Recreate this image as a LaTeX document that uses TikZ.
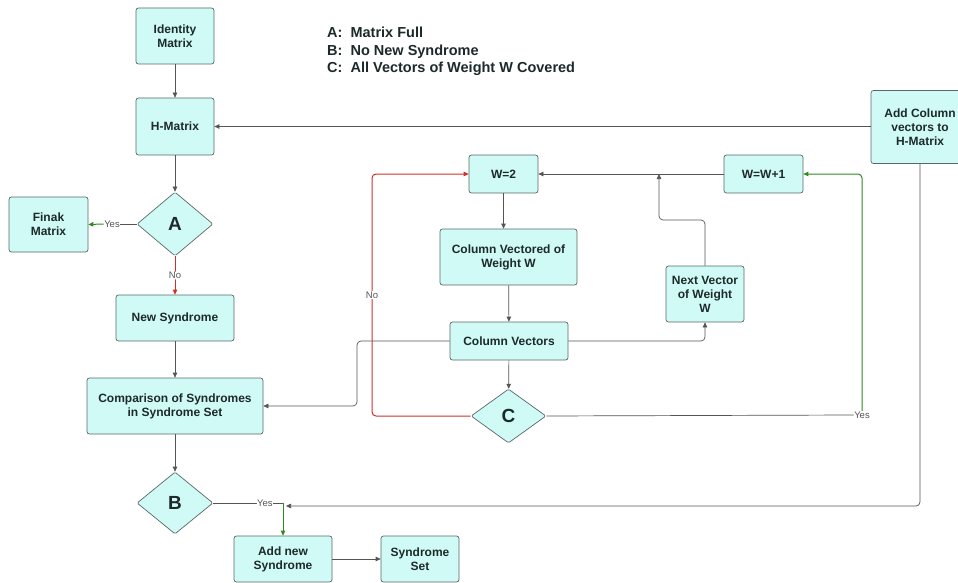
\documentclass[tikz,border=0pt]{standalone}
\usepackage{fontspec}
\setmainfont{Liberation Sans}
\usetikzlibrary{shapes.geometric,arrows.meta}
\definecolor{boxc}{HTML}{CFFAF6}
\definecolor{bordc}{HTML}{5A6868}
\definecolor{linec}{HTML}{555555}
\definecolor{redc}{HTML}{D0302A}
\definecolor{greenc}{HTML}{2E8B22}
\definecolor{txtc}{HTML}{1E2A2A}
\begin{document}
\begin{tikzpicture}[x=1pt,y=-1pt,
 box/.style={draw=bordc, line width=0.7pt, fill=boxc, rounded corners=2.5pt, align=center, inner sep=1pt, text=txtc, font=\bfseries\fontsize{12}{14}\selectfont},
 dia/.style={diamond, draw=bordc, line width=0.7pt, fill=boxc, inner sep=0pt, text=txtc, font=\bfseries\fontsize{19}{21}\selectfont, rounded corners=1.5pt},
 line/.style={draw=linec, line width=0.7pt, rounded corners=4pt},
 conn/.style={line, -{Triangle[length=5pt,width=4.5pt]}},
 cline/.style={line width=1pt},
 lab/.style={font=\fontsize{9.5}{10}\selectfont, text=linec, fill=white, inner sep=0.5pt},
 legend/.style={font=\bfseries\fontsize{14.5}{17.5}\selectfont, text=txtc, anchor=west, align=left, inner sep=0pt}
]
\useasboundingbox[fill=white] (0,0) rectangle (958,583);

\node[legend] (leg) at (327,51.5) {A:\ \ Matrix Full\\B:\ \ No New Syndrome\\C:\ \ All Vectors of Weight W Covered};

\node[box, minimum width=78pt, minimum height=56pt] (id) at (175,36) {Identity\\Matrix};
\node[box, minimum width=78pt, minimum height=57pt] (hm) at (175,126.5) {H-Matrix};
\node[dia, minimum width=76pt, minimum height=64pt] (A) at (175,224) {A};
\node[box, minimum width=79pt, minimum height=55pt] (fin) at (48.5,224.5) {Finak\\Matrix};
\node[box, minimum width=118pt, minimum height=46pt] (ns) at (175,318) {New Syndrome};
\node[box, minimum width=176pt, minimum height=56pt] (cmp) at (175,406) {Comparison of Syndromes\\in Syndrome Set};
\node[dia, minimum width=76pt, minimum height=62pt] (B) at (175,503) {B};
\node[box, minimum width=98pt, minimum height=46pt] (ans) at (283,559) {Add new\\Syndrome};
\node[box, minimum width=78pt, minimum height=46pt] (ss) at (420,559) {Syndrome\\Set};
\node[box, minimum width=98pt, minimum height=73pt] (acv) at (920,127) {Add Column\\vectors to\\H-Matrix};
\node[box, minimum width=69pt, minimum height=38pt] (w2) at (503.5,174) {W=2};
\node[box, minimum width=79pt, minimum height=38pt] (ww1) at (763.5,174) {W=W+1};
\node[box, minimum width=137pt, minimum height=56pt] (cvw) at (508.5,257) {Column Vectored of\\Weight W};
\node[box, minimum width=78pt, minimum height=56pt] (nvw) at (705,294) {Next Vector\\of Weight\\W};
\node[box, minimum width=118pt, minimum height=38pt] (cv) at (509,341) {Column Vectors};
\node[dia, minimum width=75pt, minimum height=54pt] (C) at (508.5,416) {C};

% main column
\draw[conn] (id) -- (hm);
\draw[conn] (hm) -- (A);
\node[lab] (yesA) at (112,224) {Yes};
\draw[line] (A.west) -- (yesA.east);
\draw[conn, cline, draw=greenc] (yesA.west) -- (fin.east);
\draw[conn, cline, draw=redc] (A.south) -- node[lab]{No} (ns.north);
\draw[conn] (ns) -- (cmp);
\draw[conn] (cmp) -- (B);
\coordinate (bB) at (ans.north |- B.east);
\draw[line] (B.east) -- node[lab, pos=0.74]{Yes} (bB);
\draw[conn, cline, draw=greenc] (bB) -- (ans.north);
\draw[conn] (ans) -- (ss);

% H-Matrix feedback
\draw[conn] (acv.west |- hm.east) -- (hm.east);
\coordinate (mrg) at (286,506);
\draw[conn] (acv.south) |- (mrg);

% inner loop
\draw[conn] (ww1) -- (w2);
\draw[conn] (w2.south) -- (w2.south |- cvw.north);
\draw[conn] (cvw) -- (cv);
\draw[conn] (cv) -- (C);
\coordinate (k1) at (357,341);
\draw[conn] (cv.west) -- (k1) |- (cmp.east);
\draw[conn] (cv.east) -| (nvw.south);
\coordinate (k2) at (659,220);
\coordinate (j1) at (659,174);
\draw[conn] (nvw.north) |- (k2) -- (j1);
\coordinate (k3) at (372,416);
\draw[conn, cline, draw=redc] (C.west) -- (k3) -- node[lab, pos=0.5]{No} (k3 |- w2.west) -- (w2.west);
\node[lab] (yesC) at (862,415) {Yes};
\draw[line] (C.east) -- (yesC.west);
\draw[conn, cline, draw=greenc] (yesC.north) |- (ww1.east);
\end{tikzpicture}
\end{document}
